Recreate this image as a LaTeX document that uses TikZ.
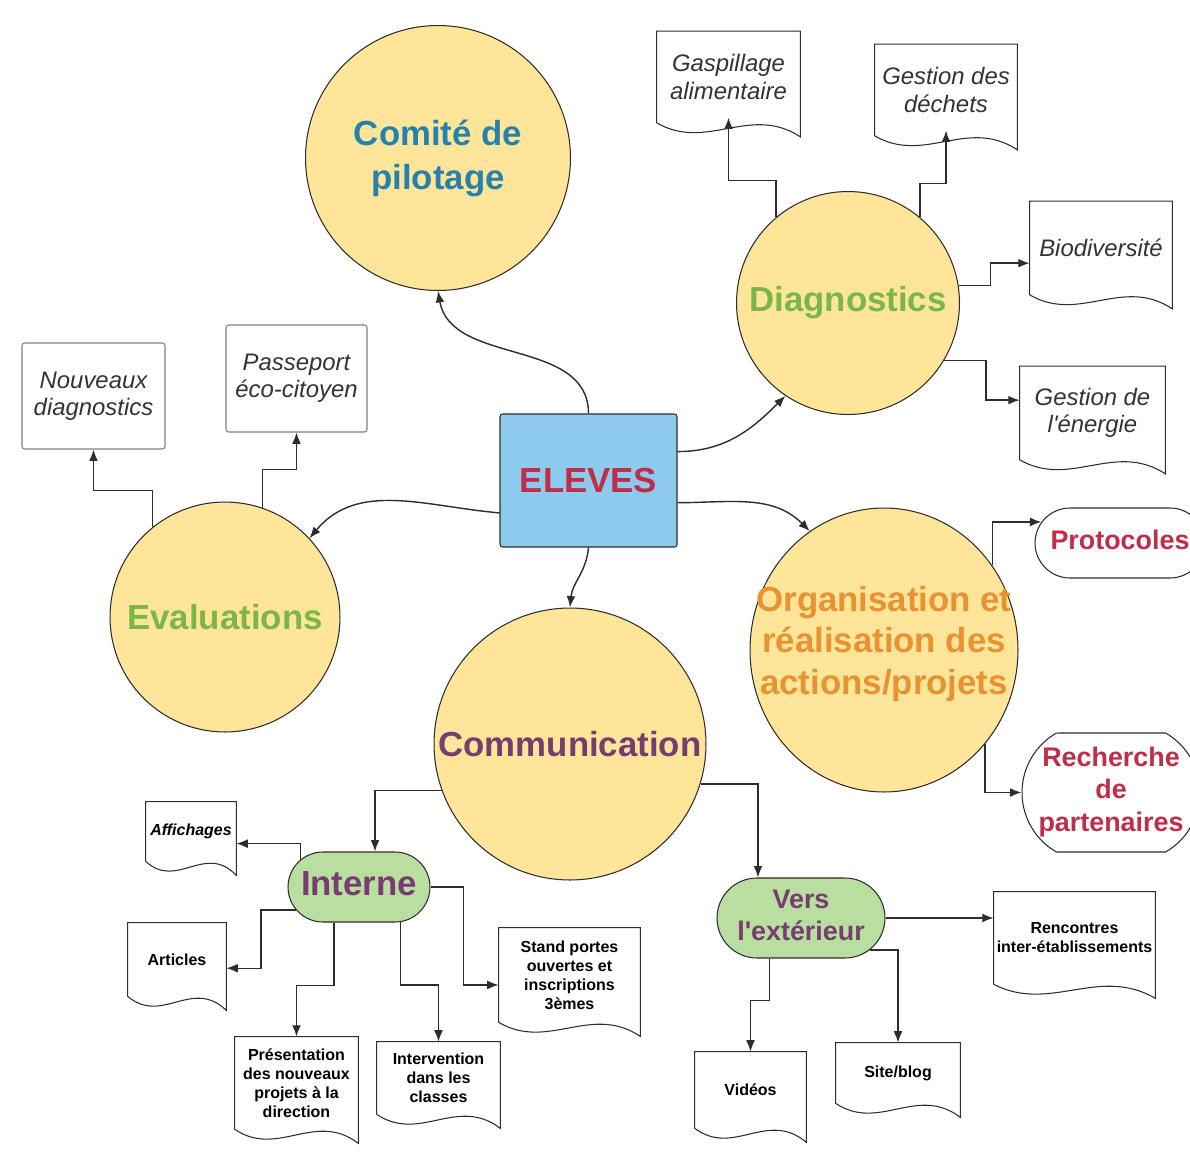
\documentclass[tikz,border=0pt]{standalone}
\usepackage{fontspec}
\setmainfont{Liberation Sans}
\usetikzlibrary{arrows.meta,calc,shapes.geometric,shapes.misc}

\definecolor{bubblefill}{RGB}{255,229,153}
\definecolor{elevesfill}{RGB}{142,202,238}
\definecolor{pillfill}{RGB}{184,222,160}
\definecolor{comitetxt}{RGB}{38,130,170}
\definecolor{greentxt}{RGB}{122,183,72}
\definecolor{orangetxt}{RGB}{232,146,50}
\definecolor{plumtxt}{RGB}{120,60,112}
\definecolor{redtxt}{RGB}{192,45,72}
\definecolor{linegray}{RGB}{45,45,45}

\newcommand{\bubblefont}{\bfseries\fontsize{19.8}{25}\selectfont}
\newcommand{\pillfont}{\bfseries\fontsize{15.3}{18.4}\selectfont}
\newcommand{\docfont}{\itshape\fontsize{13.6}{15.6}\selectfont}
\newcommand{\tinydocfont}{\bfseries\fontsize{9.1}{10.8}\selectfont}
% text that does not widen its pill
\newcommand{\nowidth}[1]{\makebox[0pt]{\begin{tabular}{@{}c@{}}#1\end{tabular}}}

\begin{document}
\begin{tikzpicture} [
    x=0.02cm, y=-0.02cm,
    bubble/.style   = { circle, draw=linegray, line width=0.6pt, fill=bubblefill,
                        inner sep=0pt, align=center, font=\bubblefont },
    chief/.style    = { rectangle, rounded corners=1.5pt, draw=linegray, line width=0.6pt,
                        fill=elevesfill, minimum width=3.54cm, minimum height=2.66cm,
                        text=redtxt, font=\bubblefont },
    pill/.style     = { rounded rectangle, draw=linegray, line width=0.6pt, fill=pillfill,
                        inner sep=0pt, text=plumtxt, font=\pillfont },
    endbox/.style   = { pill, fill=white, text=redtxt },
    note/.style     = { rectangle, rounded corners=1.5pt, draw=gray, line width=0.6pt,
                        align=center, text=black!80, font=\docfont },
    doc/.style      = { rectangle, draw=none, inner sep=0pt, align=center,
                        text=black!80, font=\docfont },
    smalldoc/.style = { doc, text=black, font=\tinydocfont },
    docline/.style  = { draw=linegray, line width=0.6pt },
    line/.style     = { draw=linegray, line width=0.8pt, -{Latex[length=6.5pt,width=5pt]} },
    intowave/.style = { shorten >=-3pt },
  ]
  \useasboundingbox (0,0) rectangle (1190,1156);

  % Define nodes
  \node[chief] (eleves) at (588.5,480.5) {ELEVES};
  \node[bubble, minimum size=5.3cm, text=comitetxt] (comite) at (438,158) {Comité de\\pilotage};
  \node[bubble, minimum size=4.46cm, text=greentxt] (diag) at (848,303) {Diagnostics};
  \node[bubble, minimum size=4.6cm, text=greentxt] (eval) at (225,617) {Evaluations};
  \node[bubble, minimum size=5.44cm, text=plumtxt] (comm) at (570,744) {Communication};
  \node[bubble, ellipse, minimum width=5.36cm, minimum height=5.68cm,
        label={[align=center, yshift=3.5pt, font=\fontsize{19.8}{23.8}\bfseries\selectfont, text=orangetxt]center:{Organisation et\\réalisation des\\actions/projets}}]
        (orga) at (884,650) {};

  \node[doc, minimum width=2.86cm, minimum height=1.82cm] (gaspi) at (728.5,77) {Gaspillage\\alimentaire};
  \node[doc, minimum width=2.84cm, minimum height=1.82cm] (dechets) at (946,90) {Gestion des\\déchets};
  \node[doc, minimum width=2.84cm, minimum height=1.86cm] (biodiv) at (1101,248) {Biodiversité};
  \node[doc, minimum width=2.9cm, minimum height=1.86cm] (energie) at (1092.5,413) {Gestion de\\l\textquotesingle énergie};

  \node[note, minimum width=2.86cm, minimum height=2.12cm] (nouveaux) at (93.5,396) {Nouveaux\\diagnostics};
  \node[note, minimum width=2.82cm, minimum height=2.14cm] (passeport) at (296.5,378.5) {Passeport\\éco-citoyen};

  \node[endbox, minimum width=3.4cm, minimum height=1.4cm] (proto) at (1120,543) {\nowidth{Protocoles}};
  \node[endbox, rounded rectangle arc length=120, minimum width=3.56cm, minimum height=2.38cm]
        (recherche) at (1111,792.5) {\nowidth{Recherche\\de\\partenaires}};

  \node[pill, minimum width=2.84cm, minimum height=1.4cm, font=\bubblefont] (interne) at (359,887) {\nowidth{Interne}};
  \node[pill, minimum width=3.36cm, minimum height=1.6cm] (vers) at (801,918) {\nowidth{Vers\\l\textquotesingle extérieur}};

  \node[smalldoc, minimum width=1.8cm, minimum height=1.18cm, font=\tinydocfont\itshape] (affich) at (191,831.5) {Affichages};
  \node[smalldoc, minimum width=1.96cm, minimum height=1.46cm] (articles) at (177,959.5) {Articles};
  \node[smalldoc, minimum width=2.46cm, minimum height=1.84cm] (presen) at (296.5,1083) {Présentation\\des nouveaux\\projets à la\\direction};
  \node[smalldoc, minimum width=2.46cm, minimum height=1.44cm] (interv) at (438.5,1078) {Intervention\\dans les\\classes};
  \node[smalldoc, minimum width=2.82cm, minimum height=1.88cm] (stand) at (569.5,975) {Stand portes\\ouvertes et\\inscriptions\\3èmes};
  \node[smalldoc, minimum width=3.22cm, minimum height=1.84cm] (rencontres) at (1074.5,938) {Rencontres\\inter-établissements};
  \node[smalldoc, minimum width=2.22cm, minimum height=1.52cm] (videos) at (750.5,1090) {Vidéos};
  \node[smalldoc, minimum width=2.48cm, minimum height=1.2cm] (site) at (898,1073) {Site/blog};

  % document outlines, wavy bottom
  \foreach \n in {gaspi,dechets,biodiv,energie,affich,articles,presen,interv,stand,rencontres,videos,site}
    \draw[docline] (\n.south west) -- (\n.north west) -- (\n.north east) -- ($(\n.south east)+(0,14)$)
      .. controls ($(\n.south west)!0.65!(\n.south east)+(0,-19)$) and ($(\n.south west)!0.35!(\n.south east)+(0,29)$) .. (\n.south west);

  % connect the nodes
  \path [line] (eleves.north) to[out=90, in=-80] (comite.south);
  \path [line] (eleves.18) to[out=0, in=225] (diag.236);
  \path [line] (eleves.200) to[out=175, in=50] (eval.43);
  \path [line] (eleves.south) to[out=-95, in=85] (comm.north);
  \path [line] (eleves.-14) to[out=0, in=135] (orga.122);

  \path [line, intowave] (diag.130) -- ++(0,-37) -| (gaspi.south);
  \path [line, intowave] (diag.50) -- ++(0,-34) -| (dechets.south);
  \path [line] (diag.9) -- ++(32,0) |- (biodiv.192);
  \path [line] (diag.-31) -- ++(42,0) |- (energie.170);

  \path [line] (eval.129) -- ++(0,-37) -| (nouveaux.south);
  \path [line] (eval.71) -- ++(0,-38) -| (passeport.south);

  \path [line] (orga.38) |- (proto.165);
  \path [line] (orga.-43) |- (recherche.west);

  \path [line] (comm.200) -| ($(interne.north)+(16,0)$);
  \path [line] (comm.-17) -| ($(vers.north)+(-43,0)$);

  \path [line] (interne.155) |- (affich.-15);
  \path [line] (interne.200) -- ++(-35,0) |- (articles.-10);
  \path [line] (interne.-125) -- ++(0,63) -| (presen.north);
  \path [line] (interne.-40) -- ++(0,63) -| (interv.north);
  \path [line] (interne.east) -- ++(33,0) |- (stand.188);

  \path [line] (vers.east) -- (vers.east -| rencontres.west);
  \path [line] (vers.-25) -| (site.north);
  \path [line] (vers.-128) -- ++(0,42) -| (videos.north);
\end{tikzpicture}
\end{document}
